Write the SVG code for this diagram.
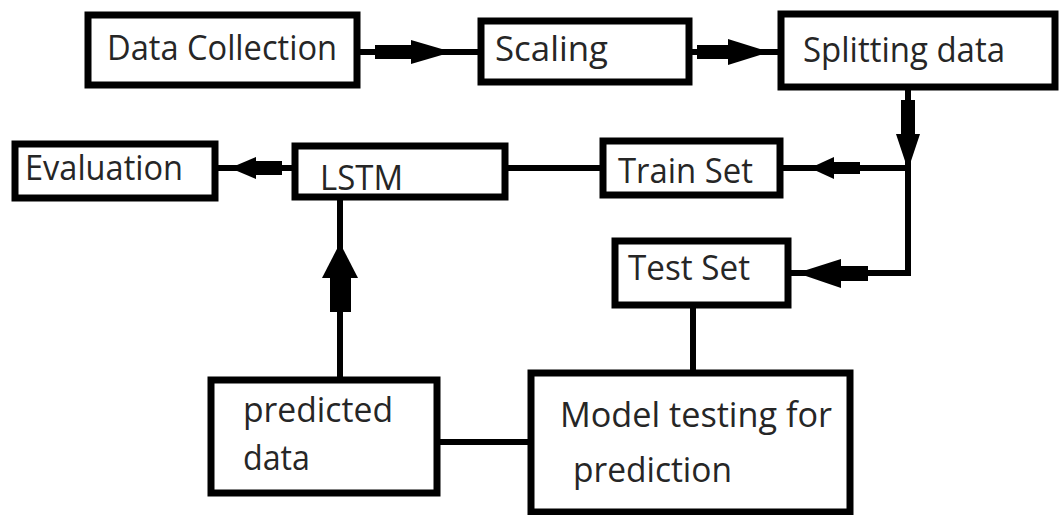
<svg xmlns="http://www.w3.org/2000/svg" width="1059" height="515" viewBox="0 0 1059 515">
  <style>
    .box { fill: #ffffff; stroke: #000000; stroke-width: 7; }
    .wire { fill: none; stroke: #000000; stroke-width: 6; }
    .head { fill: #000000; stroke: none; }
    .label { font-family: "Open Sans", Lato, "Liberation Sans", sans-serif; font-size: 35px; fill: #262626; }
  </style>
  <rect width="1059" height="515" fill="#ffffff"/>

  <!-- connectors -->
  <g id="connectors">
    <!-- Data Collection -> Scaling -->
    <line class="wire" x1="357" y1="52" x2="481" y2="52"/>
    <rect class="head" x="375" y="45" width="40" height="14"/>
    <polygon class="head" points="411,40 452,52 411,64"/>
    <!-- Scaling -> Splitting data -->
    <line class="wire" x1="689" y1="52" x2="781" y2="52"/>
    <rect class="head" x="697" y="45" width="34" height="14"/>
    <polygon class="head" points="728,39 770,52 728,65"/>
    <!-- Splitting data down to the split point -->
    <polyline class="wire" points="908,87 908,273 788,273"/>
    <rect class="head" x="901" y="100" width="14" height="37"/>
    <polygon class="head" points="896,134 908,170 920,134"/>
    <!-- split point -> Train Set -->
    <line class="wire" x1="908" y1="168" x2="780" y2="168"/>
    <rect class="head" x="831" y="162" width="29" height="12"/>
    <polygon class="head" points="834,157 810,168 834,179"/>
    <!-- split point -> Test Set -->
    <rect class="head" x="838" y="266" width="30" height="15"/>
    <polygon class="head" points="841,259 797,273 841,288"/>
    <!-- Train Set - LSTM -->
    <line class="wire" x1="505" y1="168" x2="603" y2="168"/>
    <!-- LSTM -> Evaluation -->
    <line class="wire" x1="295" y1="168" x2="215" y2="168"/>
    <rect class="head" x="253" y="161" width="29" height="14"/>
    <polygon class="head" points="256,157 230,168 256,179"/>
    <!-- predicted data -> LSTM -->
    <line class="wire" x1="340" y1="380" x2="340" y2="197"/>
    <rect class="head" x="330" y="275" width="21" height="37"/>
    <polygon class="head" points="322,278 340,243 358,278"/>
    <!-- Test Set - Model testing -->
    <line class="wire" x1="693" y1="305" x2="693" y2="373"/>
    <!-- predicted data - Model testing -->
    <line class="wire" x1="437" y1="442" x2="531" y2="442"/>
  </g>

  <g id="node-data-collection">
    <rect class="box" x="88" y="15" width="269" height="70"/>
    <text class="label" x="107" y="60" textLength="230" lengthAdjust="spacingAndGlyphs">Data Collection</text>
  </g>
  <g id="node-scaling">
    <rect class="box" x="481" y="21" width="208" height="61"/>
    <text class="label" x="495" y="61" textLength="113" lengthAdjust="spacingAndGlyphs">Scaling</text>
  </g>
  <g id="node-splitting">
    <rect class="box" x="781" y="14" width="274" height="73"/>
    <text class="label" x="803" y="62" textLength="202" lengthAdjust="spacingAndGlyphs">Splitting data</text>
  </g>
  <g id="node-evaluation">
    <rect class="box" x="15" y="144" width="200" height="54"/>
    <text class="label" x="25" y="180" textLength="158" lengthAdjust="spacingAndGlyphs">Evaluation</text>
  </g>
  <g id="node-lstm">
    <rect class="box" x="295" y="146" width="210" height="51"/>
    <text class="label" x="320" y="190" textLength="83" lengthAdjust="spacingAndGlyphs">LSTM</text>
  </g>
  <g id="node-train-set">
    <rect class="box" x="603" y="141" width="177" height="54"/>
    <text class="label" x="618" y="183" textLength="135" lengthAdjust="spacingAndGlyphs">Train Set</text>
  </g>
  <g id="node-test-set">
    <rect class="box" x="615" y="241" width="173" height="64"/>
    <text class="label" x="628" y="280" textLength="122" lengthAdjust="spacingAndGlyphs">Test Set</text>
  </g>
  <g id="node-predicted-data">
    <rect class="box" x="211" y="380" width="226" height="113"/>
    <text class="label" x="243" y="422" textLength="150" lengthAdjust="spacingAndGlyphs">predicted</text>
    <text class="label" x="243" y="470" textLength="67" lengthAdjust="spacingAndGlyphs">data</text>
  </g>
  <g id="node-model-testing">
    <rect class="box" x="531" y="373" width="319" height="139"/>
    <text class="label" x="560" y="427" textLength="272" lengthAdjust="spacingAndGlyphs">Model testing for</text>
    <text class="label" x="573" y="482" textLength="159" lengthAdjust="spacingAndGlyphs">prediction</text>
  </g>
</svg>
